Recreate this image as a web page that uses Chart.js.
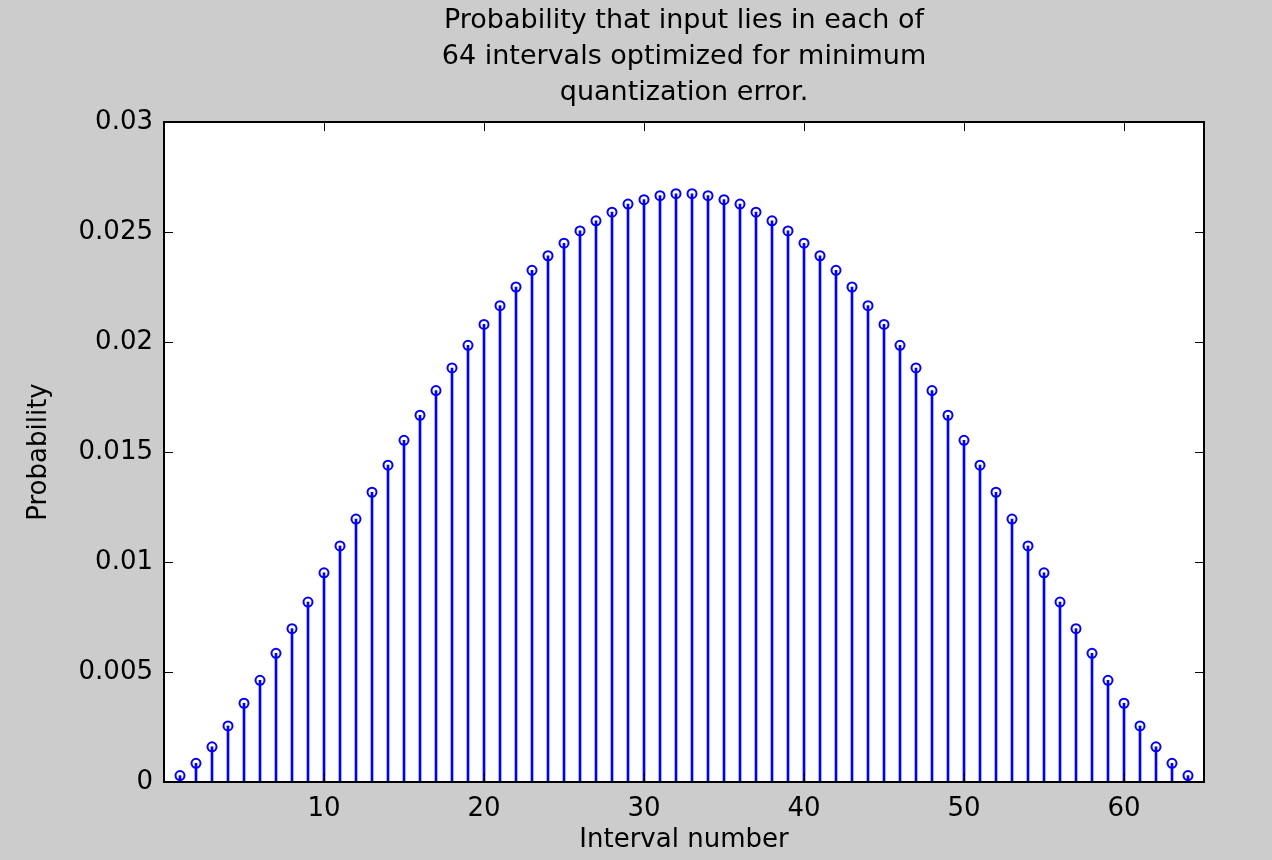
<!DOCTYPE html>
<html>
<head>
<meta charset="utf-8">
<script src="https://cdn.jsdelivr.net/npm/chart.js@4/dist/chart.umd.min.js"></script>
<style>
  html, body { margin: 0; padding: 0; background: #cccccc; }
  #wrap { width: 1272px; height: 860px; }
</style>
</head>
<body>
<div id="wrap"><canvas id="stem" width="1272" height="860"></canvas></div>
<script>
// interval numbers 1..64
const intervals = Array.from({ length: 64 }, (_, i) => i + 1);
// probability per interval
const probability = [
  0.00029, 0.00085, 0.00160, 0.00255, 0.00358, 0.00462, 0.00585, 0.00697,
  0.00818, 0.00951, 0.01073, 0.01195, 0.01317, 0.01440, 0.01553, 0.01667,
  0.01779, 0.01882, 0.01985, 0.02080, 0.02165, 0.02250, 0.02326, 0.02392,
  0.02449, 0.02505, 0.02551, 0.02590, 0.02627, 0.02647, 0.02665, 0.02674,
  0.02674, 0.02665, 0.02647, 0.02627, 0.02590, 0.02551, 0.02505, 0.02449,
  0.02392, 0.02326, 0.02250, 0.02165, 0.02080, 0.01985, 0.01882, 0.01779,
  0.01667, 0.01553, 0.01440, 0.01317, 0.01195, 0.01073, 0.00951, 0.00818,
  0.00697, 0.00585, 0.00462, 0.00358, 0.00255, 0.00160, 0.00085, 0.00029
];
const xTicks = [10, 20, 30, 40, 50, 60];
const yTicks = [0, 0.005, 0.01, 0.015, 0.02, 0.025, 0.03];
const titleLines = [
  'Probability that input lies in each of',
  '64 intervals optimized for minimum',
  'quantization error.'
];

const FONT = '"DejaVu Sans", sans-serif';
const points = intervals.map((x, i) => ({ x: x, y: probability[i] }));

// grey figure, white axes box, inward ticks on all sides, title over the axes
const matlabLook = {
  id: 'matlabLook',
  beforeDraw(chart) {
    const { ctx, chartArea: a } = chart;
    ctx.save();
    ctx.fillStyle = '#cccccc';
    ctx.fillRect(0, 0, chart.width, chart.height);
    ctx.fillStyle = '#ffffff';
    ctx.fillRect(a.left, a.top, a.right - a.left, a.bottom - a.top);
    ctx.restore();
  },
  afterDraw(chart) {
    const { ctx, chartArea: a, scales } = chart;
    const tl = 9;
    ctx.save();
    ctx.strokeStyle = '#000000';
    ctx.lineWidth = 1;
    ctx.beginPath();
    xTicks.forEach(v => {
      const px = Math.round(scales.x.getPixelForValue(v)) + 0.5;
      ctx.moveTo(px, a.bottom); ctx.lineTo(px, a.bottom - tl);
      ctx.moveTo(px, a.top); ctx.lineTo(px, a.top + tl);
    });
    yTicks.forEach(v => {
      const py = Math.round(scales.y.getPixelForValue(v)) + 0.5;
      ctx.moveTo(a.left, py); ctx.lineTo(a.left + tl, py);
      ctx.moveTo(a.right, py); ctx.lineTo(a.right - tl, py);
    });
    ctx.stroke();
    ctx.lineWidth = 2;
    ctx.strokeRect(a.left, a.top, a.right - a.left, a.bottom - a.top);

    ctx.fillStyle = '#000000';
    ctx.font = '27px ' + FONT;
    ctx.textAlign = 'center';
    ctx.textBaseline = 'middle';
    const cx = (a.left + a.right) / 2;
    titleLines.forEach((t, i) => ctx.fillText(t, cx, 21 + i * 36));
    ctx.restore();
  }
};

new Chart(document.getElementById('stem'), {
  type: 'bar',
  data: {
    datasets: [
      {
        type: 'scatter',
        data: points,
        borderColor: '#0000ff',
        backgroundColor: 'rgba(0,0,0,0)',
        pointRadius: 4.5,
        pointBorderWidth: 2,
        pointHoverRadius: 4.5
      },
      {
        type: 'bar',
        data: points,
        backgroundColor: '#0000ff',
        borderWidth: 0,
        barThickness: 2
      }
    ]
  },
  plugins: [matlabLook],
  options: {
    responsive: false,
    animation: false,
    events: [],
    layout: { padding: { top: 122, right: 68, left: 0, bottom: 0 } },
    plugins: { legend: { display: false }, tooltip: { enabled: false }, title: { display: false } },
    scales: {
      x: {
        type: 'linear',
        offset: false,
        min: 0,
        max: 65,
        grid: { display: false, drawTicks: false, offset: false },
        border: { display: false },
        afterBuildTicks: s => { s.ticks = xTicks.map(v => ({ value: v })); },
        afterFit: s => { s.height = 78; },
        ticks: { color: '#000', padding: 12, font: { family: FONT, size: 26 }, maxRotation: 0 },
        title: { display: true, text: 'Interval number', color: '#000', padding: { top: 0, bottom: 4 }, font: { family: FONT, size: 26 } }
      },
      y: {
        min: 0,
        max: 0.03,
        grid: { display: false, drawTicks: false },
        border: { display: false },
        afterBuildTicks: s => { s.ticks = yTicks.map(v => ({ value: v })); },
        afterFit: s => { s.width = 164; },
        ticks: { color: '#000', padding: 11, font: { family: FONT, size: 26 }, callback: v => String(+v.toFixed(3)) },
        title: { display: true, text: 'Probability', color: '#000', padding: { top: 24, bottom: 0 }, font: { family: FONT, size: 26 } }
      }
    }
  }
});
</script>
</body>
</html>
